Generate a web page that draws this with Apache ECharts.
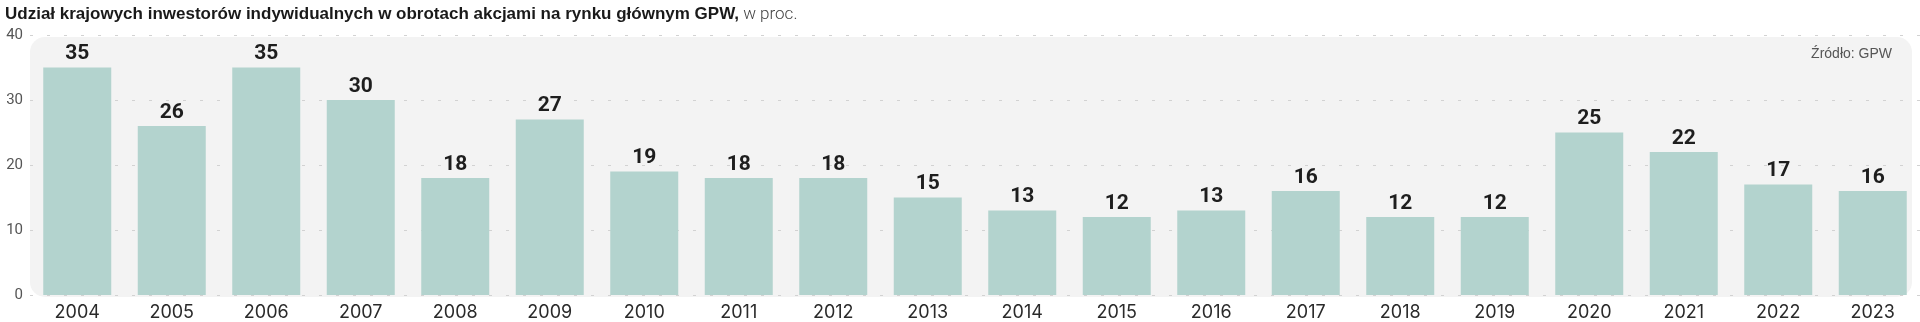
<!DOCTYPE html>
<html><head><meta charset="utf-8">
<script src="https://cdn.jsdelivr.net/npm/echarts@6/dist/echarts.min.js"></script>
<style>html,body{margin:0;padding:0;background:#fff}#c{width:1920px;height:322px}</style>
</head><body><div id="c"></div>
<script>
const categories = ['2004','2005','2006','2007','2008','2009','2010','2011','2012','2013','2014','2015','2016','2017','2018','2019','2020','2021','2022','2023'];
const values = [35,26,35,30,18,27,19,18,18,15,13,12,13,16,12,12,25,22,17,16];
const yTicks = [0,10,20,30,40];
const titleBold = 'Udział krajowych inwestorów indywidualnych w obrotach akcjami na rynku głównym GPW,';
const titleLight = ' w proc.';
const sourceText = 'Źródło: GPW';

const chart = echarts.init(document.getElementById('c'), null, {renderer:'canvas'});
chart.setOption({
  animation:false,
  backgroundColor:'#fff',
  title:{
    left:0, top:1,
    text:'{b|'+titleBold+'}{l|'+titleLight+'}',
    textStyle:{rich:{
      b:{fontFamily:'Liberation Sans',fontWeight:'bold',fontSize:17,color:'#1a1a1a'},
      l:{fontFamily:'Roboto',fontWeight:300,fontSize:17,color:'#444'}
    }}
  },
  graphic:[
    {type:'rect',z:-10,shape:{x:30,y:37,width:1882,height:260,r:15},style:{fill:'#f3f3f3'},silent:true},
    {type:'text',right:28,top:47,style:{text:sourceText,font:'14px "Liberation Sans"',fill:'#555'}}
  ],
  grid:{left:30,right:0,top:35,bottom:27,containLabel:false},
  xAxis:{
    type:'category',data:categories,
    axisLine:{show:false},axisTick:{show:false},
    axisLabel:{fontFamily:'Inter',fontSize:18,color:'#2a2a2a',margin:9}
  },
  yAxis:{
    type:'value',min:0,max:40,interval:10,
    axisLabel:{fontFamily:'Roboto',fontSize:15,color:'#555',margin:7,
      formatter:v=>yTicks.includes(v)?String(v):''},
    splitLine:{show:true,lineStyle:{color:'#d2d2d2',type:[3,14],width:1}},
    axisLine:{show:false},axisTick:{show:false}
  },
  series:[{
    type:'bar',data:values,barWidth:68,
    itemStyle:{color:'#b3d3ce'},
    label:{show:true,position:'top',distance:3,
      fontFamily:'Roboto',fontWeight:'bold',fontSize:21,color:'#1e1e1e'}
  }]
});
</script></body></html>
